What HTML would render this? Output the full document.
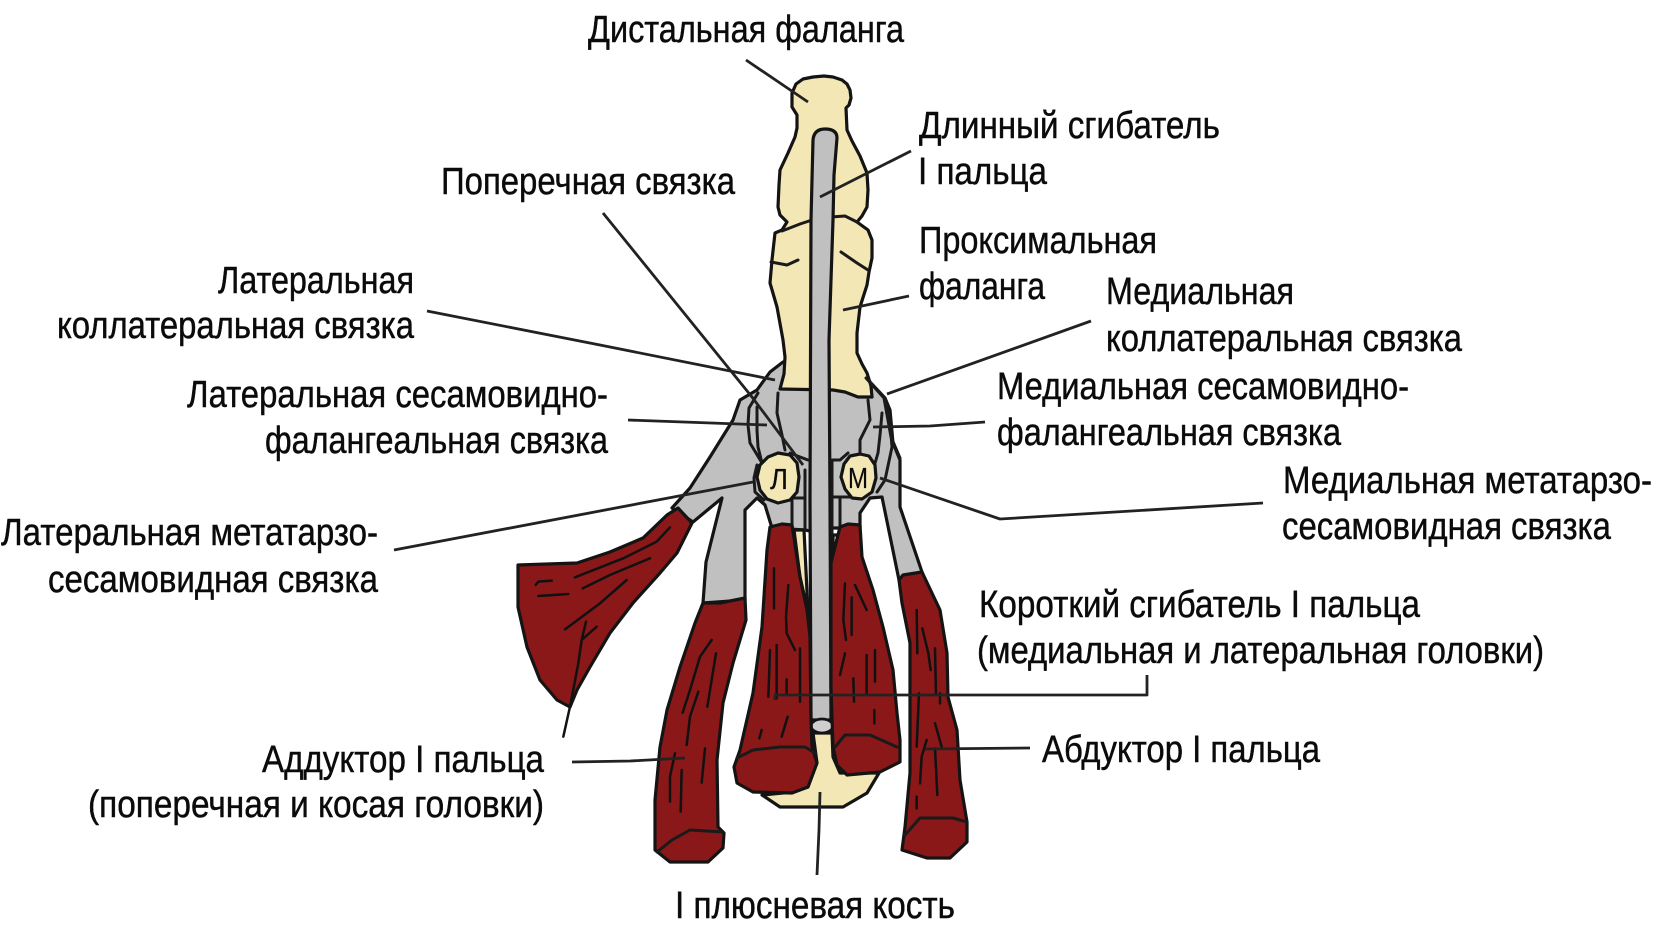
<!DOCTYPE html>
<html lang="ru">
<head>
<meta charset="utf-8">
<title>Диаграмма</title>
<style>
html,body{margin:0;padding:0;background:#fff;width:1661px;height:933px;overflow:hidden}
svg{display:block}
text{font-family:"Liberation Sans Narrow","Liberation Sans",sans-serif;font-size:38px;fill:#0b0b0b;stroke:#0b0b0b;stroke-width:.45}
text.s{font-family:"Liberation Sans",sans-serif;font-size:29px;stroke-width:.2}
.b{fill:#f3e7b6;stroke:#141414;stroke-width:3.2;stroke-linejoin:round}
.g{fill:#c0c0c0;stroke:#141414;stroke-width:3.2;stroke-linejoin:round}
.r{fill:#8b1819;stroke:#141414;stroke-width:3.2;stroke-linejoin:round}
.l{fill:none;stroke:#1a1a1a;stroke-width:3;stroke-linejoin:round;stroke-linecap:round}
.f{fill:none;stroke:#111;stroke-width:7.5;stroke-linejoin:round;stroke-linecap:round}
.k{fill:none;stroke:#222;stroke-width:2.8;stroke-linejoin:round}
</style>
</head>
<body>
<svg width="1661" height="933" viewBox="0 0 1661 933" xmlns="http://www.w3.org/2000/svg">
<rect width="1661" height="933" fill="#fff"/>

<!-- grey ligament body -->
<polygon class="g" points="783,362 770,372 757,390 740,400 733,420 710,457 690,488 672,508 693,522 722,498 714,530 706,562 703,603 745,600 745,510 757,498 765,505 772,528 805,530 830,535 832,528 860,528 860,513 870,498 882,497 899,580 922,572 900,507 900,460 893,443 890,410 885,398 870,382 860,365"/>

<!-- metatarsal head -->
<polygon class="b" points="813,733 832,733 833,757 840,773 879,773 867,793 843,807 780,807 762,795 793,792 808,787 817,763"/>
<polygon class="b" points="794,530 804,530 808,612 800,577"/>
<polygon class="b" points="833,535 838,535 833,560"/>

<!-- phalanges -->
<polygon class="b" points="813,77 824,76 833,77 842,80 847,84 850,90 851,98 849,105 846,108 847,130 852,141 860,156 867,173 868,190 867,207 862,216 857,222 868,230 872,240 872,258 869,272 867,285 860,307 857,333 857,353 862,364 867,373 871,386 872,397 858,397 845,392 833,390 780,389 784,374 785,357 783,340 777,307 770,283 772,260 775,233 782,230 787,222 780,215 778,207 779,185 780,170 788,153 795,137 797,128 797,115 792,107 792,93 796,84 803,79"/>
<polyline class="l" points="782,231 800,224 812,220"/>
<polyline class="l" points="831,217 845,216 857,222"/>
<polyline class="l" points="771,262 787,265 798,260"/>
<polyline class="l" points="841,252 857,263 868,270"/>

<!-- long flexor tendon -->
<path class="g" d="M811,720 L810,500 L811,220 L813,140 Q814,129 825,129 Q837,129 837,138 L834,175 L833,220 L829,340 L830,500 L831,720 Z"/>
<ellipse cx="822" cy="726" rx="11" ry="7" fill="#cfcfcf" stroke="#141414" stroke-width="2.8"/>

<!-- ligament inner curves -->
<polyline class="l" points="778,393 777,413 782,435 785,450"/>
<polyline class="l" points="758,393 749,408 748,425 750,443 762,463"/>
<polyline class="l" points="757,407 757,430 758,447 762,463"/>
<polyline class="l" points="790,453 800,457 808,460"/>
<polyline class="l" points="868,400 870,420 860,440 860,453"/>
<polyline class="l" points="882,413 880,435 878,453 873,470"/>
<polyline class="l" points="885,400 890,420 892,447 885,480 877,492"/>
<polyline class="l" points="866,378 884,398 891,437 900,458"/>
<polyline class="l" points="830,460 840,460 848,453"/>
<polyline class="l" points="792,498 792,530"/>
<polyline class="l" points="792,498 805,498"/>
<polyline class="l" points="805,470 805,530"/>
<polyline class="l" points="840,498 840,528"/>
<polyline class="l" points="832,497 855,497"/>
<polyline class="l" points="832,462 832,533"/>
<polyline class="l" points="757,465 754,478 755,492 764,500"/>

<!-- sesamoids -->
<polygon class="b" points="768,457 778,453 790,455 797,463 799,477 797,492 790,500 778,503 767,499 760,490 757,477 760,465"/>
<polygon class="b" points="850,456 860,454 869,456 875,465 876,478 872,492 862,499 852,498 845,489 841,477 844,464"/>
<text class="s" x="770" y="489" textLength="18" lengthAdjust="spacingAndGlyphs">Л</text>
<text class="s" x="848" y="488" textLength="20" lengthAdjust="spacingAndGlyphs">М</text>

<!-- muscles -->
<polygon class="r" points="678,508 692,523 677,553 660,573 633,603 610,633 590,667 577,690 570,707 557,700 540,680 527,647 518,607 518,565 577,563 610,552 643,538 667,515"/>
<polygon class="r" points="703,603 720,603 745,598 746,620 733,663 723,703 717,760 718,827 724,833 723,848 708,862 670,862 655,850 655,800 660,747 667,710 680,667 695,623"/>
<polyline class="l" points="657,852 672,840 690,830 723,832"/>
<polygon class="r" points="770,527 782,524 792,525 800,577 807,610 810,637 811,720 812,747 817,763 808,787 792,793 753,792 737,783 734,767 740,750 753,693 762,627 767,550"/>
<polyline class="l" points="737,758 753,750 780,747 805,747 815,753"/>
<polygon class="r" points="840,527 848,524 860,525 862,557 873,590 883,627 893,670 897,713 900,740 900,762 880,772 847,775 837,765 833,747 831,687 831,563"/>
<polyline class="l" points="835,747 845,735 870,735 897,747"/>
<polygon class="r" points="899,580 903,575 922,572 940,610 947,653 948,697 957,730 960,780 967,822 967,842 950,858 927,858 902,850 905,827 910,773 910,720 910,643 902,603"/>
<polyline class="l" points="905,835 920,818 953,818 967,822"/>

<!-- fibres: flexor + abductor -->
<g transform="translate(720,520) scale(.33333)">
<polyline class="f" points="162,145 162,265"/>
<polyline class="f" points="205,195 198,290 200,340 225,390"/>
<polyline class="f" points="170,375 170,535"/>
<polyline class="f" points="150,390 145,530"/>
<polyline class="f" points="240,385 240,545"/>
<polyline class="f" points="200,478 200,520"/>
<polyline class="f" points="125,630 118,655"/>
<polyline class="f" points="203,590 185,650"/>
<polyline class="f" points="375,190 370,300 378,360"/>
<polyline class="f" points="395,232 395,345"/>
<polyline class="f" points="405,195 440,270"/>
<polyline class="f" points="375,400 360,465"/>
<polyline class="f" points="465,390 465,485"/>
<polyline class="f" points="440,405 440,520"/>
<polyline class="f" points="400,475 402,545"/>
<polyline class="f" points="463,570 463,610"/>
<polyline class="f" points="590,270 592,400"/>
<polyline class="f" points="607,325 625,400 632,450"/>
<polyline class="f" points="645,385 648,525"/>
<polyline class="f" points="597,520 590,680"/>
<polyline class="f" points="660,520 660,550"/>
<polyline class="f" points="645,610 665,680"/>
<polyline class="f" points="620,660 605,710 600,790"/>
<polyline class="f" points="645,685 652,825"/>
<polyline class="f" points="590,830 590,865"/>
</g>
<!-- fibres: adductor -->
<g transform="translate(500,490) scale(.33333)">
<polyline class="f" points="635,450 600,500 570,600 548,668"/>
<polyline class="f" points="595,605 570,680 560,765"/>
<polyline class="f" points="648,490 635,570 622,650"/>
<polyline class="f" points="615,775 605,878"/>
<polyline class="f" points="525,790 510,860 510,935"/>
<polyline class="f" points="545,840 542,965"/>
<polyline class="f" points="510,112 470,155 370,205 225,262"/>
<polyline class="f" points="450,205 330,255 248,295"/>
<polyline class="f" points="380,270 300,340 195,418"/>
<polyline class="f" points="290,410 245,450"/>
<polyline class="f" points="258,395 245,450 235,520 210,650 190,740"/>
<polyline class="f" points="107,285 115,275 155,272"/>
<polyline class="f" points="115,318 205,312"/>
</g>

<!-- leader lines -->
<polyline class="k" points="746,60 808,102"/>
<polyline class="k" points="911,151 820,197"/>
<polyline class="k" points="909,296 843,310"/>
<polyline class="k" points="1091,321 887,394"/>
<polyline class="k" points="985,422 930,426 873,427"/>
<polyline class="k" points="1263,503 1000,519 880,478"/>
<polyline class="k" points="427,311 600,345 775,380"/>
<polyline class="k" points="628,420 767,425"/>
<polyline class="k" points="394,550 753,482"/>
<polyline class="k" points="603,213 752,397 803,465"/>
<polyline class="k" points="1147,675 1147,695 775,695 775,700"/>
<polyline class="k" points="1030,748 925,749"/>
<polyline class="k" points="572,762 630,761 685,758"/>
<polyline class="k" points="820,792 819,830 817,875"/>

<!-- labels -->
<text x="588" y="42" textLength="316" lengthAdjust="spacingAndGlyphs">Дистальная фаланга</text>
<text x="919" y="138" textLength="301" lengthAdjust="spacingAndGlyphs">Длинный сгибатель</text>
<text x="918" y="184" textLength="129" lengthAdjust="spacingAndGlyphs">I пальца</text>
<text x="919" y="253" textLength="238" lengthAdjust="spacingAndGlyphs">Проксимальная</text>
<text x="919" y="299" textLength="126" lengthAdjust="spacingAndGlyphs">фаланга</text>
<text x="1106" y="304" textLength="188" lengthAdjust="spacingAndGlyphs">Медиальная</text>
<text x="1106" y="351" textLength="356" lengthAdjust="spacingAndGlyphs">коллатеральная связка</text>
<text x="997" y="399" textLength="412" lengthAdjust="spacingAndGlyphs">Медиальная сесамовидно-</text>
<text x="997" y="445" textLength="344" lengthAdjust="spacingAndGlyphs">фалангеальная связка</text>
<text x="1283" y="493" textLength="369" lengthAdjust="spacingAndGlyphs">Медиальная метатарзо-</text>
<text x="1282" y="539" textLength="329" lengthAdjust="spacingAndGlyphs">сесамовидная связка</text>
<text x="441" y="194" textLength="294" lengthAdjust="spacingAndGlyphs">Поперечная связка</text>
<text x="218" y="293" textLength="196" lengthAdjust="spacingAndGlyphs">Латеральная</text>
<text x="57" y="338" textLength="357" lengthAdjust="spacingAndGlyphs">коллатеральная связка</text>
<text x="187" y="407" textLength="421" lengthAdjust="spacingAndGlyphs">Латеральная сесамовидно-</text>
<text x="265" y="453" textLength="343" lengthAdjust="spacingAndGlyphs">фалангеальная связка</text>
<text x="1" y="545" textLength="377" lengthAdjust="spacingAndGlyphs">Латеральная метатарзо-</text>
<text x="48" y="592" textLength="330" lengthAdjust="spacingAndGlyphs">сесамовидная связка</text>
<text x="979" y="617" textLength="441" lengthAdjust="spacingAndGlyphs">Короткий сгибатель I пальца</text>
<text x="977" y="663" textLength="567" lengthAdjust="spacingAndGlyphs">(медиальная и латеральная головки)</text>
<text x="1042" y="762" textLength="278" lengthAdjust="spacingAndGlyphs">Абдуктор I пальца</text>
<text x="262" y="772" textLength="282" lengthAdjust="spacingAndGlyphs">Аддуктор I пальца</text>
<text x="88" y="817" textLength="456" lengthAdjust="spacingAndGlyphs">(поперечная и косая головки)</text>
<text x="675" y="918" textLength="280" lengthAdjust="spacingAndGlyphs">I плюсневая кость</text>
</svg>
</body>
</html>
